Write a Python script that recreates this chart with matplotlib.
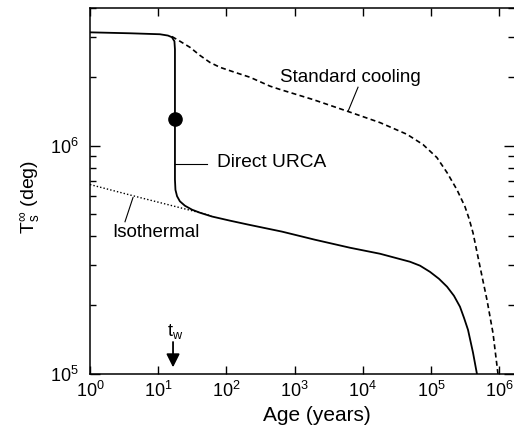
import matplotlib
matplotlib.use('Agg')
import matplotlib.pyplot as plt
from matplotlib.ticker import LogLocator, NullLocator, NullFormatter

plt.rcParams['font.family'] = ['Liberation Sans', 'DejaVu Sans']
plt.rcParams['mathtext.fontset'] = 'custom'
plt.rcParams['mathtext.rm'] = 'Liberation Sans'
plt.rcParams['mathtext.it'] = 'Liberation Sans:italic'

# direct URCA cooling track (age in years, surface temperature in K)
urca_age = [1, 3.9, 10.6, 13.9, 15.9, 17.3, 17.6, 17.6, 17.9, 18.9, 20.8,
            24.7, 31.3, 41, 61.5, 113, 207, 653, 1990, 6490, 17900, 49200,
            69000, 96600, 131000, 172000, 217000, 266000, 305000, 349000,
            413000, 472000]
urca_T = [3.13e6, 3.10e6, 3.07e6, 3.03e6, 2.98e6, 2.86e6, 2.64e6, 7.1e5,
          6.4e5, 6.0e5, 5.7e5, 5.45e5, 5.24e5, 5.08e5, 4.89e5, 4.69e5,
          4.51e5, 4.20e5, 3.87e5, 3.57e5, 3.36e5, 3.10e5, 2.98e5, 2.80e5,
          2.61e5, 2.41e5, 2.20e5, 1.97e5, 1.76e5, 1.56e5, 1.24e5, 1.0e5]

# standard (modified URCA) cooling
std_age = [15.9, 20.9, 29.3, 41, 57.5, 80.5, 134, 222, 435, 611, 1860, 6070,
           17900, 44400, 76400, 122000, 172000, 240000, 315000, 361000,
           413000, 523000, 662000, 811000, 960000]
std_T = [3.0e6, 2.86e6, 2.69e6, 2.48e6, 2.31e6, 2.20e6, 2.09e6, 1.99e6,
         1.82e6, 1.76e6, 1.59e6, 1.41e6, 1.26e6, 1.12e6, 1.01e6, 8.86e5,
         7.61e5, 6.41e5, 5.40e5, 4.79e5, 4.15e5, 2.95e5, 2.11e5, 1.51e5,
         1.0e5]

# isothermal core approximation
iso_age = [1, 5.4, 41, 60]
iso_T = [6.75e5, 5.92e5, 5.08e5, 4.92e5]

# marked point on the direct URCA track
dot_age = 17.6
dot_T = 1.31e6

# t_w marker
tw_age = 16.5

fig = plt.figure(figsize=(5.14, 4.30), dpi=100)
ax = fig.add_axes([90/514, 56/430, 424/514, 366/430])
ax.set_xscale('log')
ax.set_yscale('log')
ax.set_xlim(1, 10**(424/68.2))
ax.set_ylim(1e5, 4e6)

ax.plot(urca_age, urca_T, color='k', lw=1.3, solid_joinstyle='round')
ax.plot(std_age, std_T, color='k', lw=1.2, ls=(0, (3, 2)))
ax.plot(iso_age, iso_T, color='k', lw=1.0, ls=(0, (1, 1.5)))
ax.plot(dot_age, dot_T, 'o', color='k', ms=9.5)

# curve labels with leader lines
ax.text(611, 1.99e6, 'Standard cooling', fontsize=13.5, va='center', ha='left')
ax.plot([6070, 8510], [1.41e6, 1.80e6], color='k', lw=0.8)
ax.text(72.8, 8.42e5, 'Direct URCA', fontsize=13.8, va='center', ha='left')
ax.plot([17.6, 52], [8.34e5, 8.34e5], color='k', lw=0.8)
ax.text(2.1, 4.15e5, 'Isothermal', fontsize=13.5, va='center', ha='left')
ax.plot([4.27, 3.26], [5.92e5, 4.64e5], color='k', lw=0.8)

ax.annotate('', xy=(tw_age, 1.04e5), xytext=(tw_age, 1.42e5),
            arrowprops=dict(arrowstyle='-|>', color='k', lw=1.3,
                            mutation_scale=20))
ax.text(13.5, 1.54e5, r't$_{\rm w}$', fontsize=13, va='center', ha='left')

ax.xaxis.set_major_locator(LogLocator(base=10, numticks=10))
ax.xaxis.set_minor_locator(NullLocator())
ax.yaxis.set_minor_formatter(NullFormatter())
ax.tick_params(which='both', direction='in', top=True, right=True)
ax.tick_params(axis='x', which='major', length=6, width=1, labelsize=13, pad=5)
ax.tick_params(axis='y', which='major', length=7, width=1, labelsize=13, pad=8)
ax.tick_params(axis='y', which='minor', length=4.5, width=1)
for s in ax.spines.values():
    s.set_linewidth(1.1)
ax.spines['right'].set_visible(False)

ax.set_xlabel('Age (years)', fontsize=15)
ax.xaxis.set_label_coords((317-90)/424, -0.087)
ax.set_ylabel(r'T$_{\rm s}^{\infty}$ (deg)', fontsize=14)
ax.yaxis.set_label_coords(-0.115, 0.484)

fig.savefig('out.png', dpi=100, facecolor='white')
